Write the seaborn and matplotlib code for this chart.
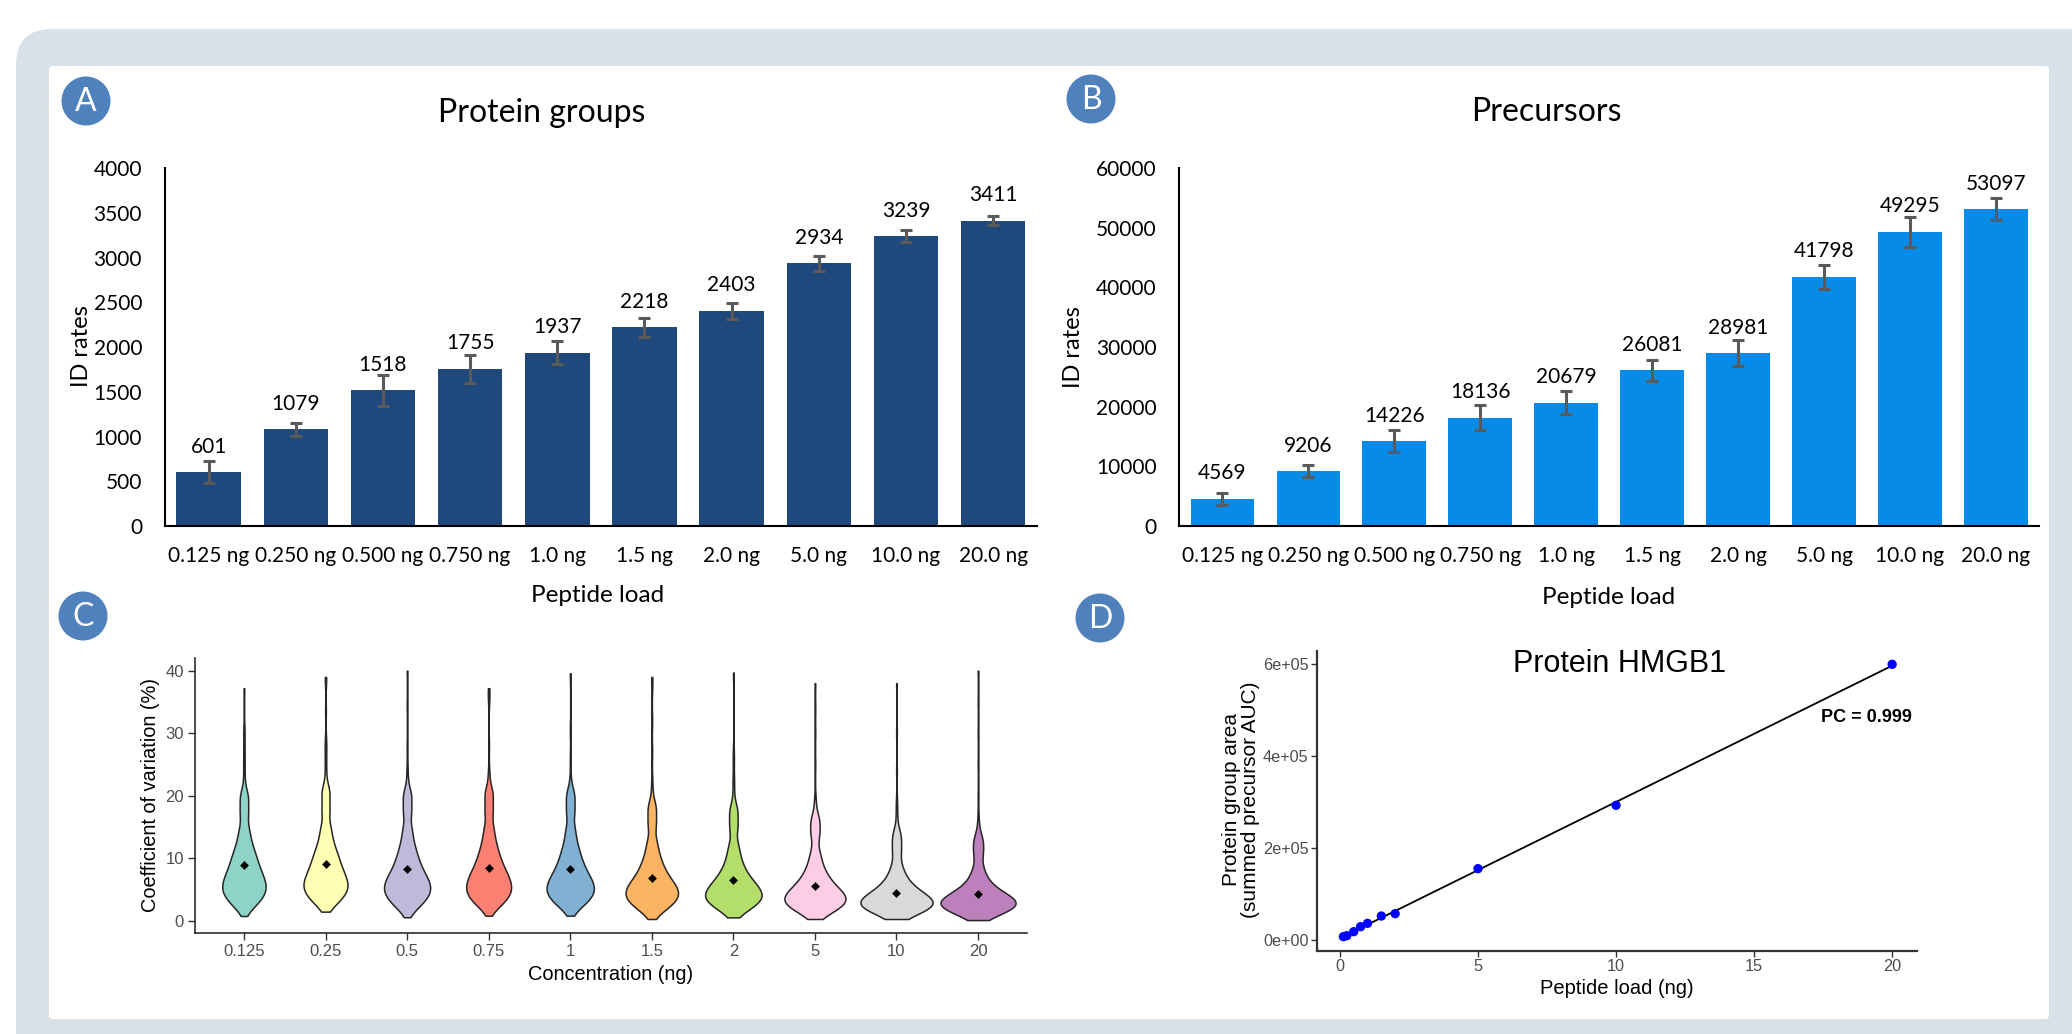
import numpy as np
import pandas as pd
import matplotlib
matplotlib.use("Agg")
import matplotlib.pyplot as plt
import seaborn as sns
from matplotlib.patches import FancyBboxPatch, Ellipse
from matplotlib.transforms import IdentityTransform
from matplotlib.ticker import FuncFormatter, MultipleLocator, FixedLocator

W, H = 2072, 1034

# ---- Panel A / B : identification rates per peptide load ----
loads = ["0.125 ng", "0.250 ng", "0.500 ng", "0.750 ng", "1.0 ng",
         "1.5 ng", "2.0 ng", "5.0 ng", "10.0 ng", "20.0 ng"]
protein_groups = [601, 1079, 1518, 1755, 1937, 2218, 2403, 2934, 3239, 3411]
protein_groups_err = [126, 75, 174, 155, 125, 110, 93, 80, 64, 50]
precursors = [4569, 9206, 14226, 18136, 20679, 26081, 28981, 41798, 49295, 53097]
precursors_err = [980, 980, 1900, 2070, 1870, 1810, 2230, 2010, 2460, 1810]

# ---- Panel C : coefficient of variation per concentration ----
# Each group: 20 quantiles (one per 5 % of proteins) plus single extreme values.
conc_labels = ["0.125", "0.25", "0.5", "0.75", "1", "1.5", "2", "5", "10", "20"]
cv_q_0125 = [2.2, 3.0, 3.6, 4.2, 4.6, 5.1, 5.5, 6.0, 6.5, 7.0, 7.6, 8.2, 8.9, 9.7, 10.5, 11.5, 12.8, 14.6, 17.3, 19.8]
cv_x_0125 = [0.75, 21.5, 23.0, 24.5, 26.0, 27.5, 29.5, 31.0, 37.2]
cv_q_025 = [2.6, 3.4, 4.0, 4.5, 5.0, 5.4, 5.8, 6.3, 6.8, 7.3, 7.9, 8.5, 9.2, 10.0, 10.8, 11.8, 13.2, 15.0, 17.8, 20.5]
cv_x_025 = [1.45, 22.0, 23.5, 25.0, 26.5, 28.0, 29.0, 33.5, 38.5, 39.0]
cv_q_05 = [2.0, 2.8, 3.4, 3.9, 4.4, 4.8, 5.2, 5.7, 6.1, 6.6, 7.1, 7.7, 8.4, 9.2, 10.1, 11.2, 12.6, 14.6, 17.5, 20.0]
cv_x_05 = [0.55, 21.5, 23.0, 24.6, 28.0, 34.5, 40.0]
cv_q_075 = [2.3, 3.0, 3.6, 4.1, 4.6, 5.0, 5.4, 5.9, 6.4, 6.9, 7.4, 8.0, 8.7, 9.5, 10.4, 11.5, 12.9, 14.8, 17.6, 20.2]
cv_x_075 = [0.8, 21.5, 23.0, 24.0, 28.0, 35.0, 36.5, 37.2]
cv_q_1 = [2.2, 2.9, 3.5, 4.0, 4.4, 4.8, 5.2, 5.7, 6.1, 6.6, 7.1, 7.7, 8.4, 9.2, 10.1, 11.2, 12.6, 14.6, 17.5, 20.0]
cv_x_1 = [0.8, 21.5, 23.0, 26.0, 30.5, 39.6]
cv_q_15 = [1.6, 2.3, 2.8, 3.2, 3.6, 4.0, 4.3, 4.7, 5.1, 5.5, 5.9, 6.4, 7.0, 7.7, 8.5, 9.5, 10.8, 12.6, 15.5, 18.0]
cv_x_15 = [0.27, 19.5, 21.0, 22.5, 27.0, 32.0, 37.5, 39.0]
cv_q_2 = [1.6, 2.2, 2.7, 3.1, 3.4, 3.7, 4.0, 4.4, 4.7, 5.1, 5.5, 6.0, 6.5, 7.1, 7.9, 8.9, 10.2, 12.0, 15.0, 17.5]
cv_x_2 = [0.53, 19.0, 20.5, 22.0, 23.0, 25.5, 27.0, 39.7]
cv_q_5 = [1.2, 1.8, 2.2, 2.5, 2.8, 3.1, 3.4, 3.7, 4.0, 4.3, 4.7, 5.1, 5.6, 6.2, 6.9, 7.8, 9.0, 10.8, 13.8, 16.0]
cv_x_5 = [0.27, 17.5, 18.8, 19.8, 25.0, 30.0, 34.0, 38.0]
cv_q_10 = [1.0, 1.4, 1.8, 2.1, 2.3, 2.5, 2.7, 2.9, 3.1, 3.4, 3.7, 4.0, 4.4, 4.8, 5.4, 6.1, 7.1, 8.6, 11.2, 13.5]
cv_x_10 = [0.27, 15.0, 16.5, 18.0, 19.3, 24.0, 30.0, 38.0]
cv_q_20 = [1.0, 1.4, 1.7, 2.0, 2.2, 2.4, 2.6, 2.8, 3.0, 3.2, 3.5, 3.8, 4.1, 4.5, 5.0, 5.7, 6.7, 8.2, 10.8, 12.8]
cv_x_20 = [0.1, 14.0, 15.2, 16.6, 20.0, 25.0, 30.0, 35.0, 40.0]
cv_means = [8.86, 9.07, 8.21, 8.43, 8.21, 6.88, 6.45, 5.60, 4.48, 4.27]
set3 = ["#8DD3C7", "#FFFFB3", "#BEBADA", "#FB8072", "#80B1D3",
        "#FDB462", "#B3DE69", "#FCCDE5", "#D9D9D9", "#BC80BD"]

# ---- Panel D : HMGB1 linearity ----
hmgb1_load = [0.125, 0.25, 0.5, 0.75, 1.0, 1.5, 2.0, 5.0, 10.0, 20.0]
hmgb1_area = [7300, 9400, 18100, 29000, 36300, 52200, 57300, 155300, 293100, 600000]

plt.rcParams["font.family"] = ["Lato", "DejaVu Sans"]
ARIAL = ["Liberation Sans", "DejaVu Sans"]

fig = plt.figure(figsize=(W / 100, H / 100), dpi=100)
fig.patch.set_facecolor("white")


def fx(x):
    return x / W


def fy(y):
    return 1 - y / H


# Framed background
frame = FancyBboxPatch((16, -60), W + 60 - 16, (H - 29) + 60,
                       boxstyle="round,pad=0,rounding_size=36",
                       transform=IdentityTransform(), fc="#D9E1E8", ec="none", zorder=-10)
fig.add_artist(frame)
inner = FancyBboxPatch((49, H - 1019), 2000, 1019 - 66,
                       boxstyle="round,pad=0,rounding_size=4",
                       transform=IdentityTransform(), fc="white", ec="none", zorder=-9)
fig.add_artist(inner)

# Panel badges
for letter, (bx, by) in zip("ABCD", [(86, 101), (1091, 99), (83, 616), (1100, 618)]):
    fig.add_artist(Ellipse((bx, H - by), 49, 49, transform=IdentityTransform(),
                           fc="#4F81BD", ec="none", zorder=5))
    fig.text(fx(bx), fy(by + 1), letter, ha="center", va="center", color="white",
             fontsize=23, zorder=6)


def bar_panel(rect, values, errs, color, ymax, step):
    ax = fig.add_axes(rect)
    ax.set_facecolor("none")
    sns.barplot(x=loads, y=values, color=color, width=0.74, saturation=1,
                errorbar=None, ax=ax)
    ax.errorbar(range(len(values)), values, yerr=errs, fmt="none", ecolor="#5A5A5A",
                elinewidth=2.2, capsize=4.3, capthick=2.2, zorder=3)
    for i, v in enumerate(values):
        ax.annotate(f"{v}", (i, v), xytext=(0, 18.4), textcoords="offset points",
                    ha="center", va="center", fontsize=15)
    ax.set_xlim(-0.5, 9.5)
    ax.set_ylim(0, ymax)
    ax.yaxis.set_major_locator(MultipleLocator(step))
    for s in ["top", "right"]:
        ax.spines[s].set_visible(False)
    for s in ["left", "bottom"]:
        ax.spines[s].set_color("black")
        ax.spines[s].set_linewidth(1.5)
    ax.tick_params(axis="y", length=0, labelsize=15, pad=16.5)
    ax.tick_params(axis="x", length=0, labelsize=15, pad=14.5)
    ax.set_xlabel("")
    ax.set_ylabel("")
    return ax


axA = bar_panel([fx(165), fy(526), 871.7 / W, 358 / H], protein_groups,
                protein_groups_err, "#1F497D", 4000, 500)
axB = bar_panel([fx(1179.4), fy(526), 859.6 / W, 358 / H], precursors,
                precursors_err, "#078BE8", 60000, 10000)

fig.text(fx(542), fy(113), "Protein groups", ha="center", va="center", fontsize=23)
fig.text(fx(1546), fy(112), "Precursors", ha="center", va="center", fontsize=23)
fig.text(fx(598), fy(596), "Peptide load", ha="center", va="center", fontsize=17.5)
fig.text(fx(1609), fy(597), "Peptide load", ha="center", va="center", fontsize=17.5)
fig.text(fx(82), fy(346), "ID rates", ha="center", va="center", rotation=90, fontsize=17)
fig.text(fx(1073), fy(347), "ID rates", ha="center", va="center", rotation=90, fontsize=17)

# ---- Panel C ----
axC = fig.add_axes([fx(195), fy(933), 832 / W, 275 / H])
axC.set_facecolor("none")
cv_quantiles = [cv_q_0125, cv_q_025, cv_q_05, cv_q_075, cv_q_1,
                cv_q_15, cv_q_2, cv_q_5, cv_q_10, cv_q_20]
cv_extremes = [cv_x_0125, cv_x_025, cv_x_05, cv_x_075, cv_x_1,
               cv_x_15, cv_x_2, cv_x_5, cv_x_10, cv_x_20]
PER_QUANTILE = 10  # proteins represented by each quantile value
rows = []
for lab, q, x in zip(conc_labels, cv_quantiles, cv_extremes):
    vals = np.concatenate([np.repeat(q, PER_QUANTILE), x])
    rows.append(pd.DataFrame({"conc": lab, "cv": vals}))
cv_df = pd.concat(rows, ignore_index=True)

sns.violinplot(data=cv_df, x="conc", y="cv", hue="conc", order=conc_labels,
               hue_order=conc_labels, palette=set3, legend=False, cut=0, inner=None,
               density_norm="area", common_norm=True, width=0.92, linewidth=1.1,
               linecolor="#262626",
               bw_method=lambda k: 1.0 / k.dataset.std(ddof=1), bw_adjust=1.3,
               gridsize=300, saturation=1, ax=axC)
sns.stripplot(x=conc_labels, y=cv_means, order=conc_labels, jitter=False,
              color="black", marker="D", size=4.5, ax=axC, zorder=5)
axC.set_xlim(-0.6, 9.6)
axC.set_ylim(-1.97, 42.03)
axC.yaxis.set_major_locator(FixedLocator([0, 10, 20, 30, 40]))
for s in ["top", "right"]:
    axC.spines[s].set_visible(False)
for s in ["left", "bottom"]:
    axC.spines[s].set_color("#1A1A1A")
    axC.spines[s].set_linewidth(1.1)
axC.tick_params(length=5, width=1, color="#333333", labelcolor="#4D4D4D",
                labelsize=12, pad=3)
for lab in axC.get_xticklabels() + axC.get_yticklabels():
    lab.set_family(ARIAL)
axC.set_xlabel("")
axC.set_ylabel("")
fig.text(fx(151), fy(795), "Coefficient of variation (%)", ha="center", va="center",
         rotation=90, fontsize=14.4, family=ARIAL)
fig.text(fx(611), fy(975), "Concentration (ng)", ha="center", va="center",
         fontsize=14.4, family=ARIAL)

# ---- Panel D ----
axD = fig.add_axes([fx(1317), fy(950.7), 600 / W, 299.7 / H])
axD.set_facecolor("none")
sns.regplot(x=hmgb1_load, y=hmgb1_area, scatter=False, ci=None, color="black",
            line_kws={"lw": 1.3}, ax=axD)
sns.scatterplot(x=hmgb1_load, y=hmgb1_area, color="#0000FF", s=45, edgecolor="none",
                ax=axD, zorder=3)
axD.set_xlim(-0.83, 20.9)
axD.set_ylim(-23300, 629000)
axD.xaxis.set_major_locator(FixedLocator([0, 5, 10, 15, 20]))
axD.yaxis.set_major_locator(FixedLocator([0, 2e5, 4e5, 6e5]))
axD.yaxis.set_major_formatter(FuncFormatter(lambda v, _: f"{v:.0e}"))
for s in ["top", "right"]:
    axD.spines[s].set_visible(False)
for s in ["left", "bottom"]:
    axD.spines[s].set_color("#333333")
    axD.spines[s].set_linewidth(1.6)
axD.tick_params(length=4, width=1, color="#333333", labelcolor="#4D4D4D",
                labelsize=11.7, pad=2)
for lab in axD.get_xticklabels() + axD.get_yticklabels():
    lab.set_family(ARIAL)
axD.set_xlabel("")
axD.set_ylabel("")
fig.text(fx(1620), fy(664), "Protein HMGB1", ha="center", va="center", fontsize=22,
         family=ARIAL)
fig.text(fx(1866), fy(718), "PC = 0.999", ha="center", va="center", fontsize=13,
         fontweight="bold", family=ARIAL)
fig.text(fx(1241), fy(800), "Protein group area\n(summed precursor AUC)", ha="center",
         va="center", rotation=90, fontsize=15, linespacing=0.95, family=ARIAL)
fig.text(fx(1617), fy(988), "Peptide load (ng)", ha="center", va="center",
         fontsize=14.5, family=ARIAL)

fig.savefig("out.png", dpi=100, facecolor="white")
